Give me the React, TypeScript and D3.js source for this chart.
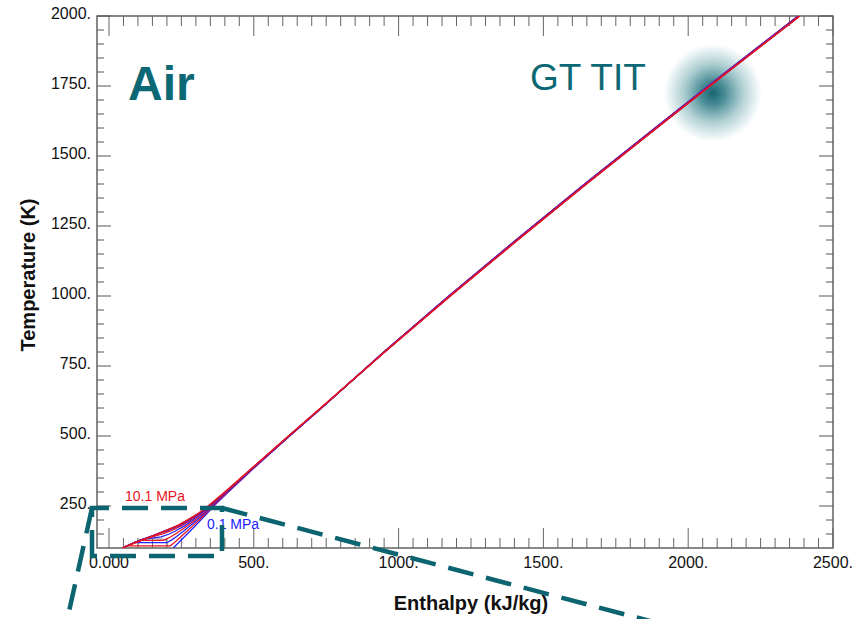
import React from "react";
import * as d3 from "d3";

// ---- axis setup -------------------------------------------------------
const xDomain = [-41.4, 2500];
const yDomain = [100, 2000];
const xMajorTicks = [0, 500, 1000, 1500, 2000, 2500];
const xTickLabels = ["0.000", "500.", "1000.", "1500.", "2000.", "2500."];
const yMajorTicks = [250, 500, 750, 1000, 1250, 1500, 1750, 2000];
const yTickLabels = ["250.", "500.", "750.", "1000.", "1250.", "1500.", "1750.", "2000."];

// ---- isobars (enthalpy kJ/kg, temperature K) ---------------------------
const isobarPressures = [0.1, 1.1, 2.1, 3.1, 4.1, 5.1, 6.1, 7.1, 8.1, 9.1, 10.1];
const isobarColors = [
  "#2222ff", "#e8141e", "#2222ff", "#e8141e", "#2222ff", "#e8141e",
  "#2222ff", "#e8141e", "#2222ff", "#e8141e", "#e8141e",
];

// low-temperature branches, [h, T]
const lowP01 = [[222, 100], [246, 125], [270, 150], [294, 175], [317, 200], [340, 225], [362, 250], [412, 300], [516, 400], [624, 500]];
const lowP11 = [[44, 100], [62, 108], [212, 108], [226, 120], [248, 140], [269, 160], [290, 180], [311, 200], [336, 225], [359, 250], [410, 300], [515, 400], [623, 500]];
const lowP21 = [[45, 100], [66, 110], [87, 119], [200, 119], [218, 130], [232, 140], [257, 160], [281, 180], [304, 200], [331, 225], [356, 250], [408, 300], [514, 400], [623, 500]];
const lowP31 = [[46, 100], [67, 110], [88, 120], [106, 127], [186, 127], [194, 130], [214, 140], [244, 160], [272, 180], [297, 200], [326, 225], [353, 250], [406, 300], [513, 400], [622, 500]];
const lowP41 = [[46, 100], [67, 110], [89, 120], [118, 130], [145, 135], [180, 140], [208, 150], [228, 160], [262, 180], [290, 200], [321, 225], [350, 250], [405, 300], [513, 400], [622, 500]];
const lowP51 = [[46, 100], [67, 110], [89, 120], [114, 130], [148, 140], [185, 150], [211, 160], [251, 180], [283, 200], [317, 225], [348, 250], [404, 300], [512, 400], [622, 500]];
const lowP61 = [[46, 100], [67, 110], [90, 120], [113, 130], [140, 140], [170, 150], [199, 160], [244, 180], [279, 200], [315, 225], [347, 250], [403, 300], [512, 400], [621, 500]];
const lowP71 = [[46, 100], [68, 110], [91, 120], [114, 130], [140, 140], [165, 150], [192, 160], [240, 180], [276, 200], [313, 225], [346, 250], [402, 300], [511, 400], [621, 500]];
const lowP81 = [[46, 100], [68, 110], [92, 120], [116, 130], [141, 140], [165, 150], [190, 160], [238, 180], [274, 200], [312, 225], [345, 250], [401, 300], [511, 400], [621, 500]];
const lowP91 = [[46, 100], [69, 110], [93, 120], [118, 130], [143, 140], [167, 150], [191, 160], [237, 180], [272, 200], [311, 225], [344, 250], [401, 300], [510, 400], [620, 500]];
const lowP101 = [[46, 100], [70, 110], [95, 120], [120, 130], [145, 140], [170, 150], [195, 160], [237, 180], [270, 200], [310, 225], [342, 250], [400, 300], [510, 400], [620, 500]];

// high-temperature part: ideal-gas enthalpy plus a small real-gas departure
const highTemps = [600, 800, 1000, 1200, 1400, 1600, 1800, 2000];
const highBaseEnthalpy = [734, 949, 1173, 1405, 1642, 1885, 2130, 2379];
const depP01 = [0, 0, 0, 0, 0, 0, 0, 0];
const depP11 = [0, 0, 1, 1, 1, 1, 1, 1];
const depP21 = [-1, 1, 1, 1, 1, 1, 1, 1];
const depP31 = [-1, 1, 2, 2, 2, 2, 2, 2];
const depP41 = [-1, 1, 2, 3, 3, 3, 3, 3];
const depP51 = [-2, 2, 3, 3, 4, 4, 4, 4];
const depP61 = [-2, 2, 4, 4, 4, 4, 4, 4];
const depP71 = [-2, 2, 4, 5, 5, 5, 5, 5];
const depP81 = [-2, 2, 5, 5, 6, 6, 6, 6];
const depP91 = [-3, 3, 5, 6, 6, 6, 6, 6];
const depP101 = [-3, 3, 6, 7, 7, 7, 7, 7];

const lowBranches = [lowP01, lowP11, lowP21, lowP31, lowP41, lowP51, lowP61, lowP71, lowP81, lowP91, lowP101];
const departures = [depP01, depP11, depP21, depP31, depP41, depP51, depP61, depP71, depP81, depP91, depP101];

// two-phase outline near the bottom of the range, [h, T]
const saturationOutline = [[100, 100], [100, 118], [103, 128], [115, 132], [150, 133], [185, 132], [197, 128], [200, 118], [201, 100]];

const W = 864;
const H = 619;
const plot = { left: 97, right: 833, top: 16, bottom: 548 };
const FONT = "'Liberation Sans', Arial, Helvetica, sans-serif";
const TEAL = "#0c6874";

export default function App() {
  const x = d3.scaleLinear().domain(xDomain).range([plot.left, plot.right]);
  const y = d3.scaleLinear().domain(yDomain).range([plot.bottom, plot.top]);

  const line = d3
    .line<number[]>()
    .x((d) => x(d[0]))
    .y((d) => y(d[1]));

  const series = isobarPressures.map((p, i) => {
    const high = highTemps.map((t, j) => [highBaseEnthalpy[j] + departures[i][j], t]);
    return { p, color: isobarColors[i], points: [...lowBranches[i], ...high] };
  });

  const xMinor = d3.range(0, 2501, 50).filter((v) => v % 500 !== 0);
  const yMinor = d3.range(150, 2000, 50).filter((v) => v % 250 !== 0);

  const frame = "#4a4a4a";

  // zoom callout box around the low-temperature corner
  const box = { x0: 92, y0: 508, x1: 222, y1: 556 };

  return (
    <svg
      width={W}
      height={H}
      style={{ position: "absolute", left: 0, top: 0, background: "#fff" }}
      fontFamily={FONT}
    >
      <defs>
        <clipPath id="plotClip">
          <rect x={plot.left} y={plot.top} width={plot.right - plot.left} height={plot.bottom - plot.top} />
        </clipPath>
        <radialGradient id="titGlow" cx="50%" cy="50%" r="50%">
          <stop offset="0%" stopColor="#0b5e6b" stopOpacity={0.95} />
          <stop offset="25%" stopColor="#0e6672" stopOpacity={0.75} />
          <stop offset="60%" stopColor="#1a7580" stopOpacity={0.35} />
          <stop offset="100%" stopColor="#2a8590" stopOpacity={0} />
        </radialGradient>
      </defs>

      <rect x={0} y={0} width={W} height={H} fill="#fff" />

      {/* gas turbine inlet temperature marker */}
      <circle cx={x(2085)} cy={y(1725)} r={49} fill="url(#titGlow)" />

      {/* frame */}
      <rect
        x={plot.left}
        y={plot.top}
        width={plot.right - plot.left}
        height={plot.bottom - plot.top}
        fill="none"
        stroke={frame}
        strokeWidth={1.3}
      />

      {/* x ticks, bottom and top, pointing inward */}
      {xMinor.map((v) => (
        <g key={"xm" + v} stroke="#666" strokeWidth={1}>
          <line x1={x(v)} x2={x(v)} y1={plot.bottom} y2={plot.bottom - 10} />
          <line x1={x(v)} x2={x(v)} y1={plot.top} y2={plot.top + 10} />
        </g>
      ))}
      {xMajorTicks.map((v) => (
        <g key={"xM" + v} stroke="#666" strokeWidth={1}>
          <line x1={x(v)} x2={x(v)} y1={plot.bottom} y2={plot.bottom - 20} />
          <line x1={x(v)} x2={x(v)} y1={plot.top} y2={plot.top + 20} />
        </g>
      ))}
      {/* y ticks, left and right */}
      {yMinor.map((v) => (
        <g key={"ym" + v} stroke="#555" strokeWidth={1}>
          <line x1={plot.left} x2={plot.left + 7} y1={y(v)} y2={y(v)} />
          <line x1={plot.right} x2={plot.right - 7} y1={y(v)} y2={y(v)} />
        </g>
      ))}
      {yMajorTicks.map((v) => (
        <g key={"yM" + v} stroke="#555" strokeWidth={1}>
          <line x1={plot.left} x2={plot.left + 14} y1={y(v)} y2={y(v)} />
          <line x1={plot.right} x2={plot.right - 14} y1={y(v)} y2={y(v)} />
        </g>
      ))}

      {/* tick labels */}
      {yMajorTicks.map((v, i) => (
        <text key={"yl" + v} x={91} y={y(v) + 3} textAnchor="end" fontSize={16} fill="#111">
          {yTickLabels[i]}
        </text>
      ))}
      {xMajorTicks.map((v, i) => (
        <text key={"xl" + v} x={x(v)} y={568} textAnchor="middle" fontSize={16} fill="#111">
          {xTickLabels[i]}
        </text>
      ))}

      {/* axis titles */}
      <text x={471} y={610} textAnchor="middle" fontSize={20} fontWeight="bold" fill="#111">
        Enthalpy (kJ/kg)
      </text>
      <text
        transform="translate(35,275) rotate(-90)"
        textAnchor="middle"
        fontSize={20}
        fontWeight="bold"
        fill="#111"
      >
        Temperature (K)
      </text>

      {/* isobars */}
      <g clipPath="url(#plotClip)" fill="none">
        <path d={line(saturationOutline) || ""} stroke="#8c7c7c" strokeWidth={1} />
        {series.map((s) => (
          <path key={s.p} d={line(s.points) || ""} stroke={s.color} strokeWidth={1.25} />
        ))}
      </g>

      {/* pressure labels */}
      <text x={125} y={501} fontSize={14} fill="#e8141e">
        10.1 MPa
      </text>
      <text x={207} y={529} fontSize={14} fill="#2222ff">
        0.1 MPa
      </text>

      {/* annotations */}
      <text x={128} y={100} fontSize={48} fontWeight="bold" fill={TEAL}>
        Air
      </text>
      <text x={530} y={90} fontSize={37} fill={TEAL}>
        GT TIT
      </text>

      {/* zoom callout */}
      <g fill="none" stroke="#0c6470" strokeWidth={4.5} strokeDasharray="26 13">
        <path d={`M${box.x0},${box.y1} L${box.x0},${box.y0} L${box.x1},${box.y0} L${box.x1},${box.y1} Z`} />
        <line x1={box.x1} y1={box.y0} x2={665} y2={625} />
        <line x1={box.x0} y1={box.y0} x2={66} y2={625} />
      </g>
    </svg>
  );
}
